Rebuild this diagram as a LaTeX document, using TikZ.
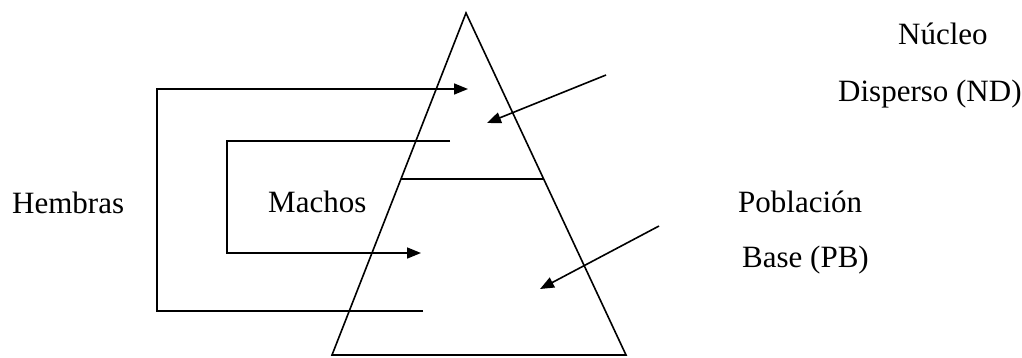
\documentclass[tikz,border=0pt]{standalone}
\usepackage{fontspec}
\setmainfont{Liberation Serif}
\usepackage{tikz}
\usetikzlibrary{arrows.meta}

\begin{document}
\begin{tikzpicture}[
    x=1pt, y=-1pt,
    label/.style={anchor=base west, inner sep=0pt, font=\fontsize{31pt}{37pt}\selectfont},
    edge/.style={line width=1.6pt, line join=miter},
    arrow/.style={edge, -{Triangle[length=14pt, width=11pt]}}
]
    \useasboundingbox (0,0) rectangle (1022,357);

    % pyramid
    \coordinate (apex) at (466,13);
    \coordinate (baseL) at (332,355);
    \coordinate (baseR) at (626,355);
    \coordinate (midL) at (401,179);
    \coordinate (midR) at (543,179);
    \draw[edge] (apex) -- (baseL) -- (baseR) -- cycle;
    \draw[edge] (midL) -- (midR);

    % labels
    \node[label] (hembras) at (12,213) {Hembras};
    \node[label] (machos) at (268,212) {Machos};
    \node[label] (nucleo) at (898,44) {Núcleo};
    \node[label] (disperso) at (838,101) {Disperso (ND)};
    \node[label] (poblacion) at (738,212) {Población};
    \node[label] (base) at (742,267) {Base (PB)};

    % females bracket
    \coordinate (hTop) at (157,89);
    \coordinate (hBot) at (157,311);
    \coordinate (hIn) at (468,89);
    \coordinate (hOut) at (423,311);
    \draw[arrow] (hOut) -- (hBot) -- (hTop) -- (hIn);

    % males bracket
    \coordinate (mTop) at (227,141);
    \coordinate (mBot) at (227,253);
    \coordinate (mOut) at (450,141);
    \coordinate (mIn) at (421,253);
    \draw[arrow] (mOut) -- (mTop) -- (mBot) -- (mIn);

    % pointers
    \coordinate (ndFrom) at (606,75);
    \coordinate (ndTo) at (487,123);
    \coordinate (pbFrom) at (659,226);
    \coordinate (pbTo) at (540,289);
    \draw[arrow] (ndFrom) -- (ndTo);
    \draw[arrow] (pbFrom) -- (pbTo);
\end{tikzpicture}
\end{document}
